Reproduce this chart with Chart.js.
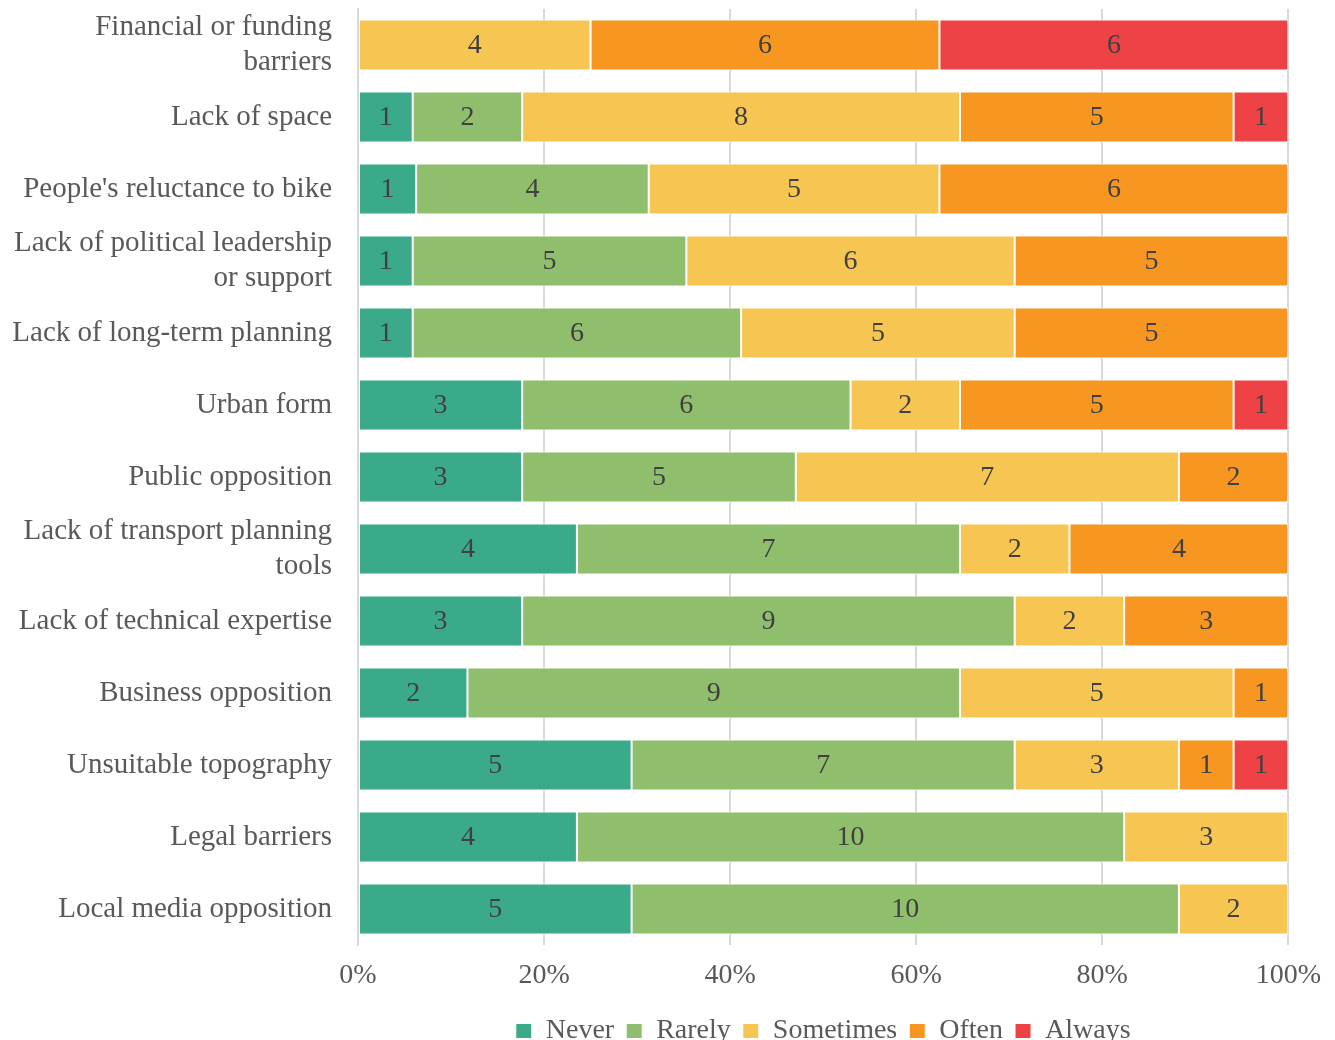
<!DOCTYPE html>
<html>
<head>
  <meta charset="utf-8">
  <title>Barriers to cycling infrastructure</title>
  <script src="https://cdn.jsdelivr.net/npm/chart.js"></script>
  <style>
    body { margin: 0; background: #fff; }
    #wrap { width: 1335px; height: 1040px; }
  </style>
</head>
<body>
  <div id="wrap"><canvas id="chart"></canvas></div>
<script>
const categories = [
  ['Financial or funding', 'barriers'],
  'Lack of space',
  "People's reluctance to bike",
  ['Lack of political leadership', 'or support'],
  'Lack of long-term planning',
  'Urban form',
  'Public opposition',
  ['Lack of transport planning', 'tools'],
  'Lack of technical expertise',
  'Business opposition',
  'Unsuitable topography',
  'Legal barriers',
  'Local media opposition'
];
const never     = [0, 1, 1, 1, 1, 3, 3, 4, 3, 2, 5, 4, 5];
const rarely    = [0, 2, 4, 5, 6, 6, 5, 7, 9, 9, 7, 10, 10];
const sometimes = [4, 8, 5, 6, 5, 2, 7, 2, 2, 5, 3, 3, 2];
const often     = [6, 5, 6, 5, 5, 5, 2, 4, 3, 1, 1, 0, 0];
const always    = [6, 1, 0, 0, 0, 1, 0, 0, 0, 0, 1, 0, 0];
const xTicks = [0, 20, 40, 60, 80, 100];

const series = [
  { label: 'Never', counts: never, color: '#3baa8a' },
  { label: 'Rarely', counts: rarely, color: '#8fbe6d' },
  { label: 'Sometimes', counts: sometimes, color: '#f7c551' },
  { label: 'Often', counts: often, color: '#f79621' },
  { label: 'Always', counts: always, color: '#ee4247' }
];

// row totals, so each bar fills 100%
const totals = categories.map((_, i) => series.reduce((s, d) => s + d.counts[i], 0));

const FONT = "'Liberation Serif', 'DejaVu Serif', serif";

// count labels in the middle of each segment
const countLabels = {
  id: 'countLabels',
  afterDatasetsDraw(chart) {
    const ctx = chart.ctx;
    ctx.save();
    ctx.font = '28px ' + FONT;
    ctx.fillStyle = '#404040';
    ctx.textAlign = 'center';
    ctx.textBaseline = 'middle';
    chart.data.datasets.forEach((ds, di) => {
      const meta = chart.getDatasetMeta(di);
      meta.data.forEach((el, i) => {
        const n = ds.counts[i];
        if (!n) return;
        ctx.fillText(String(n), (el.x + el.base) / 2, el.y + 1);
      });
    });
    ctx.restore();
  }
};

new Chart(document.getElementById('chart'), {
  type: 'bar',
  data: {
    labels: categories,
    datasets: series.map(s => ({
      label: s.label,
      counts: s.counts,
      data: s.counts.map((v, i) => v / totals[i] * 100),
      backgroundColor: s.color,
      borderColor: '#ffffff',
      borderWidth: 1,
      borderSkipped: false,
      categoryPercentage: 1,
      barPercentage: 0.71
    }))
  },
  options: {
    indexAxis: 'y',
    responsive: true,
    maintainAspectRatio: false,
    animation: false,
    layout: { padding: { left: 0, right: 45, top: 9, bottom: -15 } },
    scales: {
      x: {
        stacked: true,
        min: 0,
        max: 100,
        afterBuildTicks: axis => { axis.ticks = xTicks.map(v => ({ value: v })); },
        afterFit: s => { s.height = 60; },
        ticks: {
          callback: v => v + '%',
          color: '#595959',
          font: { family: FONT, size: 28 },
          padding: 14,
          maxRotation: 0
        },
        grid: { color: '#d9d9d9', lineWidth: 2, drawTicks: false },
        border: { display: false }
      },
      y: {
        stacked: true,
        afterFit: s => { s.width = 358; s.paddingTop = 0; s.paddingBottom = 0; },
        ticks: {
          autoSkip: false,
          color: '#595959',
          font: { family: FONT, size: 29, lineHeight: 1.2 },
          padding: 18
        },
        grid: { display: false },
        border: { color: '#d9d9d9', width: 2 }
      }
    },
    plugins: {
      legend: {
        position: 'bottom',
        fullSize: false,
        labels: {
          color: '#595959',
          font: { family: FONT, size: 28 },
          boxWidth: 16,
          boxHeight: 15,
          padding: 12
        }
      },
      tooltip: { enabled: false }
    }
  },
  plugins: [countLabels]
});
</script>
</body>
</html>
